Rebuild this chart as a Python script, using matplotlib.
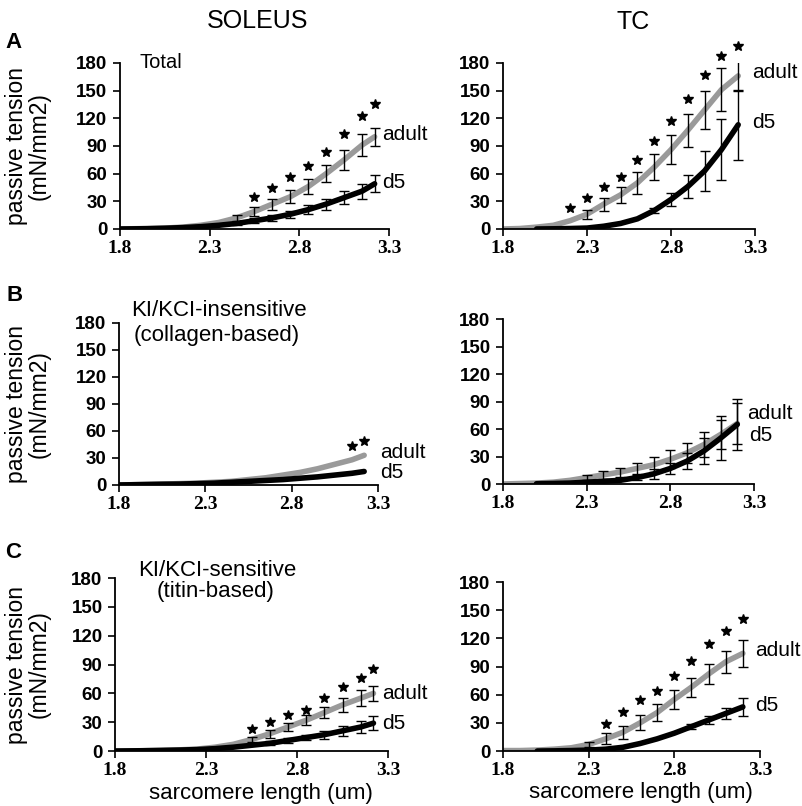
import numpy as np
import matplotlib
matplotlib.use('Agg')
import matplotlib.pyplot as plt

plt.rcParams['font.family'] = ['Liberation Sans', 'DejaVu Sans']

nan = np.nan

# sarcomere length grids (um)
sl_sol = [1.80, 1.95, 2.05, 2.15, 2.25, 2.35, 2.45, 2.55, 2.65, 2.75, 2.85, 2.95, 3.05, 3.15, 3.22]
sl_tc = [1.80, 1.90, 2.00, 2.10, 2.20, 2.30, 2.40, 2.50, 2.60, 2.70, 2.80, 2.90, 3.00, 3.10, 3.20]

# SOLEUS - total
sol_tot_adult = [0, 0.5, 1, 2, 4, 7, 12, 19, 27, 35, 46, 60, 75, 91, 100]
sol_tot_adult_sd = [nan] * 6 + [3, 5, 6, 7, 8, 9, 11, 12, 10]
sol_tot_d5 = [0, 0.3, 0.8, 1.5, 2.5, 4, 6, 9, 12, 16, 21, 27, 34, 41, 49]
sol_tot_d5_sd = [nan] * 6 + [2, 3, 3, 4, 5, 6, 7, 8, 9]
sol_tot_star = [nan] * 7 + [35, 44, 56, 68, 84, 103, 122, 136]

# SOLEUS - collagen based
sol_col_adult = [0, 0.5, 1, 1.5, 2, 3, 4, 6, 8, 11, 14, 18, 23, 28, 33]
sol_col_d5 = [0, 0.5, 0.8, 1, 1.5, 2, 3, 4, 5, 6, 7.5, 9, 11, 13, 15]
sol_col_star = [nan] * 13 + [43, 49]

# SOLEUS - titin based
sol_tit_adult = [0, 0.3, 0.7, 1.2, 2, 4, 7, 12, 18, 25, 32, 40, 48, 55, 60]
sol_tit_adult_sd = [nan] * 7 + [3, 4, 4, 5, 6, 7, 8, 8]
sol_tit_d5 = [0, 0.3, 0.6, 1, 1.5, 2.5, 4, 6, 8, 11, 14, 17, 21, 25, 29]
sol_tit_d5_sd = [nan] * 8 + [2, 3, 3, 4, 5, 6, 7]
sol_tit_star = [nan] * 7 + [23, 30, 37, 43, 55, 67, 76, 85]

# TC - total
tc_tot_adult = [0, 0.5, 2, 4, 9, 16, 27, 37, 50, 67, 86, 107, 129, 151, 166]
tc_tot_adult_sd = [nan] * 5 + [5, 7, 9, 12, 14, 16, 18, 21, 23, 16]
tc_tot_d5 = [nan, nan, 0, 0.2, 0.5, 1, 3, 6, 11, 20, 32, 46, 63, 86, 113]
tc_tot_d5_sd = [nan] * 9 + [3, 7, 12, 22, 33, 38]
tc_tot_star = [nan] * 4 + [23, 34, 46, 56, 75, 95, 117, 141, 167, 187, 198]

# TC - collagen based
tc_col_adult = [0, 0.5, 1, 2, 4, 7, 10, 13, 17, 21, 27, 34, 43, 54, 66]
tc_col_adult_sd = [nan] * 5 + [3, 4, 5, 6, 8, 10, 11, 14, 16, 22]
tc_col_d5 = [nan, nan, 0.3, 0.6, 1, 2, 3, 4, 7, 11, 17, 25, 36, 50, 65]
tc_col_d5_sd = [nan] * 8 + [3, 5, 6, 9, 14, 24, 28]
tc_col_star = [nan] * 15

# TC - titin based
tc_tit_adult = [0.5, 0.5, 1, 2, 3.5, 7, 13, 20, 30, 41, 55, 68, 82, 95, 104]
tc_tit_adult_sd = [nan] * 5 + [3, 6, 7, 8, 9, 10, 10, 11, 12, 14]
tc_tit_d5 = [nan, nan, 0, 0.2, 0.5, 1, 2, 4, 8, 13, 19, 26, 33, 40, 47]
tc_tit_d5_sd = [nan] * 11 + [3, 4, 6, 10]
tc_tit_star = [nan] * 6 + [29, 42, 54, 64, 80, 96, 114, 128, 141]

x_ticks = [1.8, 2.3, 2.8, 3.3]
y_ticks = [0, 30, 60, 90, 120, 150, 180]

GRAY = '#9a9a9a'

fig = plt.figure(figsize=(8.02, 8.06), dpi=100)

# (x, adult, adult_sd, d5, d5_sd, star, axes rect, adult label xy, d5 label xy, left col?)
panels = [
    (sl_sol, sol_tot_adult, sol_tot_adult_sd, sol_tot_d5, sol_tot_d5_sd, sol_tot_star,
     [0.1496, 0.7159, 0.3354, 0.2060], (3.26, 102), (3.26, 50), True),
    (sl_tc, tc_tot_adult, tc_tot_adult_sd, tc_tot_d5, tc_tot_d5_sd, tc_tot_star,
     [0.6272, 0.7159, 0.3142, 0.2060], (3.28, 170), (3.28, 115), False),
    (sl_sol, sol_col_adult, None, sol_col_d5, None, sol_col_star,
     [0.1484, 0.3983, 0.3229, 0.2010], (3.31, 36), (3.31, 14), True),
    (sl_tc, tc_col_adult, tc_col_adult_sd, tc_col_d5, tc_col_d5_sd, tc_col_star,
     [0.6272, 0.3995, 0.3130, 0.2047], (3.26, 77), (3.27, 53), False),
    (sl_sol, sol_tit_adult, sol_tit_adult_sd, sol_tit_d5, sol_tit_d5_sd, sol_tit_star,
     [0.1434, 0.0682, 0.3404, 0.2146], (3.27, 60), (3.27, 29), True),
    (sl_tc, tc_tit_adult, tc_tit_adult_sd, tc_tit_d5, tc_tit_d5_sd, tc_tit_star,
     [0.6272, 0.0682, 0.3204, 0.2097], (3.27, 107), (3.27, 49), False),
]

axes = []
for i, (x, ad, ad_sd, d5, d5_sd, star, rect, lab_a, lab_d, left) in enumerate(panels):
    ax = fig.add_axes(rect)
    axes.append(ax)
    x = np.array(x)
    ad = np.array(ad, dtype=float)
    d5 = np.array(d5, dtype=float)

    ax.plot(x, ad, color=GRAY, lw=4, solid_capstyle='round', zorder=2)
    ax.plot(x, d5, color='black', lw=4, solid_capstyle='round', zorder=3)

    for y, sd in ((ad, ad_sd), (d5, d5_sd)):
        if sd is None:
            continue
        sd = np.array(sd, dtype=float)
        m = ~np.isnan(sd)
        ax.errorbar(x[m], y[m], yerr=sd[m], fmt='none', ecolor='black',
                    elinewidth=1.0, capsize=3.5, capthick=1.0, zorder=4)

    star = np.array(star, dtype=float)
    m = ~np.isnan(star)
    ax.plot(x[m], star[m], ls='none', marker='*', ms=7.5, color='black',
            clip_on=False, zorder=5)

    ax.text(lab_a[0], lab_a[1], 'adult', fontsize=15, va='center', ha='left', clip_on=False)
    ax.text(lab_d[0], lab_d[1], 'd5', fontsize=15, va='center', ha='left', clip_on=False)

    ax.set_xlim(1.8, 3.3)
    ax.set_ylim(0, 180)
    ax.set_xticks(x_ticks)
    ax.set_xticklabels(['1.8', '2.3', '2.8', '3.3'], family='Liberation Serif',
                       fontweight='bold', fontsize=14)
    ax.set_yticks(y_ticks)
    ax.set_yticklabels([str(v) for v in y_ticks], fontweight='bold', fontsize=13.5)
    ax.tick_params(direction='out', length=5, width=1.2, pad=4)
    ax.tick_params(axis='x', pad=3)
    for s in ('top', 'right'):
        ax.spines[s].set_visible(False)
    for s in ('left', 'bottom'):
        ax.spines[s].set_linewidth(1.3)

    if left:
        ax.set_ylabel('passive tension\n(mN/mm2)', fontsize=16.5, linespacing=1.0)
        wpx = rect[2] * 802
        ax.yaxis.set_label_coords((51 - rect[0] * 802) / wpx, 0.5)
    if i >= 4:
        ax.set_xlabel('sarcomere length (um)', fontsize=16)
        ax.xaxis.set_label_coords(0.535, -0.185)

# column titles and panel letters
fig.text(258 / 802, 1 - 21 / 806, 'SOLEUS', fontsize=18, ha='center', va='center')
fig.text(633 / 802, 1 - 22 / 806, 'TC', fontsize=18, ha='center', va='center')
fig.text(14 / 802, 1 - 42 / 806, 'A', fontsize=16, fontweight='bold', ha='center', va='center')
fig.text(15 / 802, 1 - 295 / 806, 'B', fontsize=16, fontweight='bold', ha='center', va='center')
fig.text(13 / 802, 1 - 553 / 806, 'C', fontsize=16, fontweight='bold', ha='center', va='center')

# panel subtitles
fig.text(140 / 802, 1 - 62 / 806, 'Total', fontsize=14.5, ha='left', va='center')
fig.text(219 / 802, 1 - 310 / 806, 'KI/KCI-insensitive', fontsize=16, ha='center', va='center')
fig.text(217 / 802, 1 - 335 / 806, '(collagen-based)', fontsize=16, ha='center', va='center')
fig.text(217 / 802, 1 - 571 / 806, 'KI/KCI-sensitive', fontsize=16, ha='center', va='center')
fig.text(216 / 802, 1 - 592 / 806, '(titin-based)', fontsize=16, ha='center', va='center')

fig.savefig('out.png', dpi=100)
